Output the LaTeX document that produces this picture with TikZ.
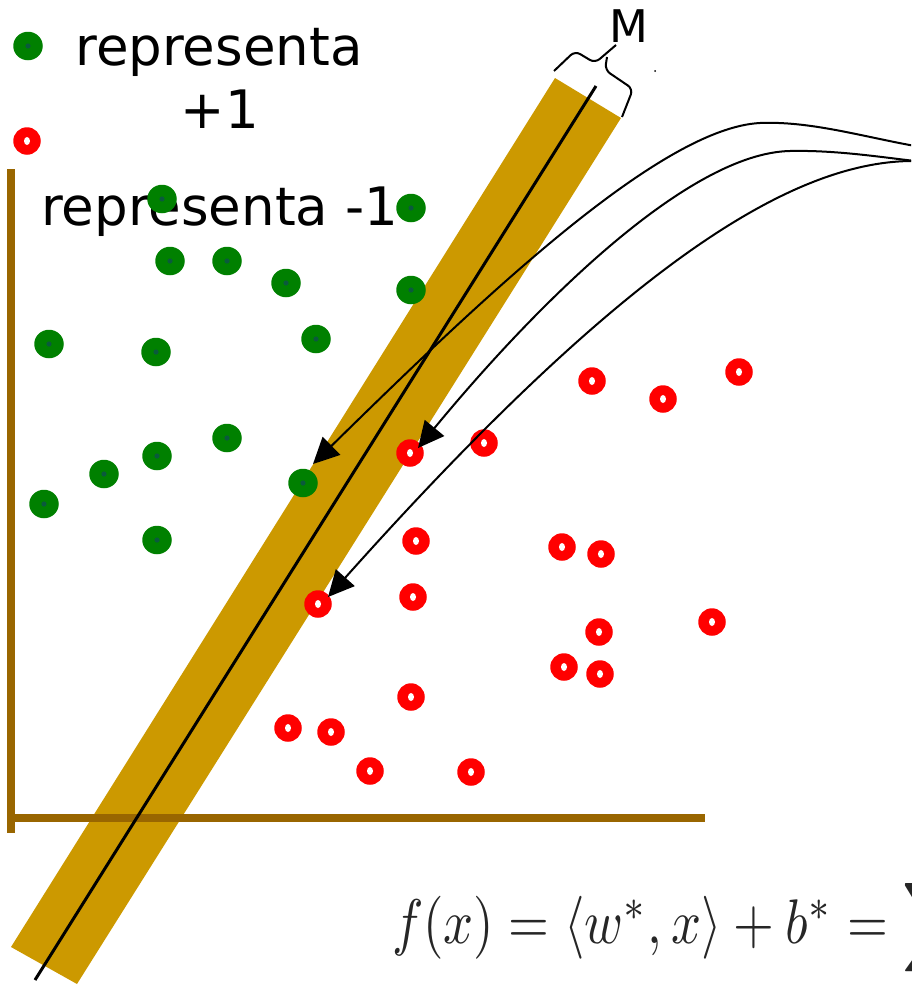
\documentclass[tikz,border=0pt]{standalone}
\usepackage{graphicx}
\usepackage[no-math]{fontspec}
\setmainfont{DejaVu Sans}
\usetikzlibrary{arrows.meta,shapes.geometric}
\definecolor{bandgold}{RGB}{204,153,0}
\definecolor{axisbrown}{RGB}{153,102,0}
\definecolor{dotgreen}{RGB}{0,128,0}
\definecolor{dotcore}{RGB}{10,90,60}
\definecolor{dotred}{RGB}{255,0,0}
\tikzset{
  lbl/.style={inner sep=0pt, anchor=base, font=\fontsize{53}{60}\selectfont},
  gdot/.style={ellipse, minimum width=29.5pt, minimum height=28.5pt, inner sep=0pt, fill=dotgreen,
    path picture={\fill[dotcore] (path picture bounding box.center) circle (2.6pt);}},
  rdot/.style={circle, minimum size=27.5pt, inner sep=0pt, fill=dotred,
    path picture={\fill[white] (path picture bounding box.center) ellipse (3pt and 4pt);}},
  axisline/.style={draw=axisbrown, line width=8.5pt},
  midline/.style={draw=black, line width=3pt},
  curvearrow/.style={draw=black, line width=2pt, -{Triangle[length=26pt,width=25pt]}},
  bracepath/.style={draw=black, line width=2pt, rounded corners=6pt},
}
\begin{document}
\begin{tikzpicture}[x=1pt,y=-1pt]
\useasboundingbox (0,0) rectangle (911,985);
\clip (0,0) rectangle (911,985);

% legend and texts
\node[lbl] (t1) at (219,65) {representa};
\node[lbl] (t2) at (220,128) {+1};
\node[lbl, anchor=base west] (t3) at (41,225) {representa -1};
\node[inner sep=0pt, anchor=base, font=\fontsize{45}{50}\selectfont] (m) at (629,42) {M};

% formula
\node[inner sep=0pt, anchor=base west, text=black!85] (fx) at (392,943)
  {\scalebox{5.25}[6.3]{$f(x)=\langle w^{*},x\rangle+b^{*}=\displaystyle\sum_{i}$}};

% margin band
\fill[bandgold] (555,78) -- (621,118) -- (77,984) -- (11,947) -- cycle;

% axes
\draw[axisline] (11,169) -- (11,833);
\draw[axisline] (7,818) -- (705,818);

% separating line
\coordinate (ltop) at (596,86);
\coordinate (lbot) at (35,980);
\draw[midline] (ltop) -- (lbot);

% green dots
\foreach \n/\x/\y in {0/28/46, 1/162/199, 2/411/208, 3/170/261, 4/227/261, 5/286/283,
  6/411/290, 7/49/344, 8/156/352, 9/316/339, 10/227/438, 11/157/456, 12/104/474,
  13/44/504, 14/303/483, 15/157/540}
  \node[gdot] (g\n) at (\x,\y) {};

% red dots
\foreach \n/\x/\y in {0/27/141, 1/592/381, 2/663/399, 3/739/372, 4/410/453, 5/484/443,
  6/416/541, 7/562/547, 8/601/554, 9/413/597, 10/318/604, 11/599/632, 12/712/622,
  13/564/667, 14/600/674, 15/411/697, 16/288/728, 17/331/732, 18/370/771, 19/471/772}
  \node[rdot] (r\n) at (\x,\y) {};

% brace for margin M
\coordinate (bl) at (554,71);
\coordinate (btip) at (616,45);
\coordinate (br) at (622,117);
\draw[bracepath] (bl) -- (575,51) -- (595,63) -- (btip);
\draw[bracepath] (607,57) -- (605,70) -- (633,89) -- (br);
\fill[black] (655,71) circle (1pt);

% arrows from the right
\coordinate (s1) at (915,146);
\coordinate (s2) at (915,161);
\coordinate (e1) at (313,464);
\coordinate (e2) at (418,448);
\coordinate (e3) at (328,597);
\draw[curvearrow] (s1) .. controls (860,136) and (810,121) .. (760,123)
  .. controls (660,128) and (480,300) .. (e1);
\draw[curvearrow] (s2) .. controls (880,157) and (835,150) .. (790,151)
  .. controls (690,153) and (540,300) .. (e2);
\draw[curvearrow] (s2) .. controls (790,160) and (620,270) .. (e3);
\end{tikzpicture}
\end{document}
